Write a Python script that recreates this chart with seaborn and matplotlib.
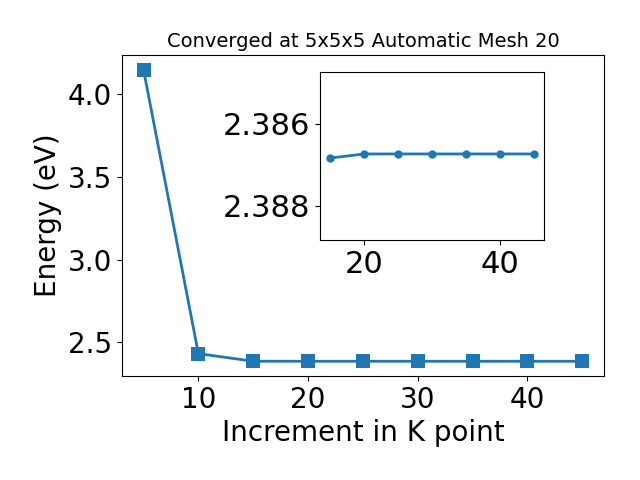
import matplotlib
matplotlib.use('Agg')
import matplotlib.pyplot as plt
import seaborn as sns
import pandas as pd

# K-point convergence data
kpoints = [5, 10, 15, 20, 25, 30, 35, 40, 45]
energy = [4.146, 2.433, 2.38684, 2.38674, 2.38674, 2.38674, 2.38674, 2.38674, 2.38674]
inset_yticks = [2.386, 2.388]

df = pd.DataFrame({'k': kpoints, 'E': energy})
df_zoom = df[df['k'] >= 15]

fig = plt.figure(figsize=(6.4, 4.8), dpi=100)
ax = fig.add_axes([0.19, 0.217, 0.754, 0.668])
sns.lineplot(x='k', y='E', data=df, marker='s', markersize=10, linewidth=2,
             markeredgewidth=0, color='#1f77b4', ax=ax)
ax.set_title('Converged at 5x5x5 Automatic Mesh 20', fontsize=14)
ax.set_xlabel('Increment in K point', fontsize=20)
ax.set_ylabel('Energy (eV)', fontsize=20)
ax.tick_params(labelsize=20)

# inset with zoomed converged region
ins = fig.add_axes([0.5, 0.5, 0.35, 0.35])
sns.lineplot(x='k', y='E', data=df_zoom, marker='o', markersize=6, linewidth=2,
             markeredgewidth=0, color='#1f77b4', ax=ins)
ins.set_ylim(df_zoom['E'].max() + 0.002, df_zoom['E'].min() - 0.002)
ins.set_yticks(inset_yticks)
ins.set_yticklabels([f'{t:.3f}' for t in inset_yticks])
ins.set_xlabel('')
ins.set_ylabel('')
ins.tick_params(labelsize=22)

fig.savefig('out.png')
